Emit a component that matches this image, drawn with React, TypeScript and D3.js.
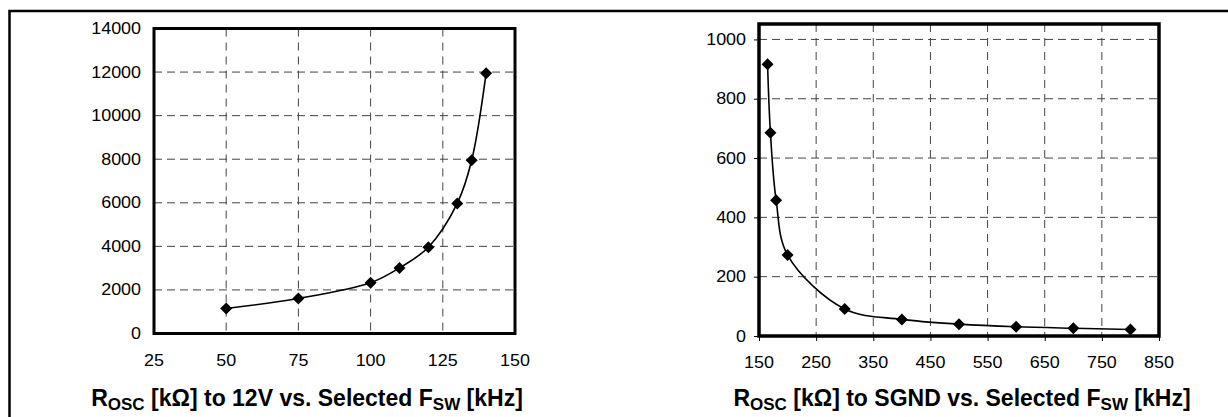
import { useEffect, useRef } from "react";
import * as d3 from "d3";

// left chart: Rosc to 12V
const fswHigh = [50, 75, 100, 110, 120, 130, 135, 140];
const roscHigh = [1150, 1610, 2330, 3010, 3960, 5970, 7950, 11950];
const highXTicks = [25, 50, 75, 100, 125, 150];
const highYTicks = [0, 2000, 4000, 6000, 8000, 10000, 12000, 14000];

// right chart: Rosc to SGND
const fswLow = [165, 170, 180, 200, 300, 400, 500, 600, 700, 800];
const roscLow = [916, 685, 458, 273, 91, 56, 40, 31, 26, 22];
const lowXTicks = [150, 250, 350, 450, 550, 650, 750, 850];
const lowYTicks = [0, 200, 400, 600, 800, 1000];

const FONT = "'Liberation Sans', Arial, sans-serif";
const STRETCH = 1.12; // tick labels in the scan are a bit wider than Arial

type ChartCfg = {
  xs: number[];
  ys: number[];
  xTicks: number[];
  yTicks: number[];
  xDomain: [number, number];
  yDomain: [number, number];
  box: { x0: number; x1: number; y0: number; y1: number };
  outerTicks: number;
  frame: number;
  title: string[];
  titleX: number;
};

const App = () => {
  const svgRef = useRef<SVGSVGElement>(null);

  useEffect(() => {
    const svg = d3.select(svgRef.current);
    svg.selectAll("*").remove();

    // outer page frame (left + top rule)
    svg.append("path")
      .attr("d", "M9.5,417V11H1228")
      .attr("fill", "none")
      .attr("stroke", "#000")
      .attr("stroke-width", 2.5);

    const draw = (c: ChartCfg) => {
      const x = d3.scaleLinear().domain(c.xDomain).range([c.box.x0, c.box.x1]);
      const y = d3.scaleLinear().domain(c.yDomain).range([c.box.y1, c.box.y0]);
      const g = svg.append("g");

      // grid
      g.append("g")
        .selectAll("line")
        .data(c.xTicks.filter((t) => t > c.xDomain[0] && t < c.xDomain[1]))
        .enter().append("line")
        .attr("x1", (d) => x(d)).attr("x2", (d) => x(d))
        .attr("y1", c.box.y0).attr("y2", c.box.y1)
        .attr("stroke", "#444").attr("stroke-width", 1)
        .attr("stroke-dasharray", "8,6");
      g.append("g")
        .selectAll("line")
        .data(c.yTicks.filter((t) => t > c.yDomain[0] && t < c.yDomain[1]))
        .enter().append("line")
        .attr("x1", c.box.x0).attr("x2", c.box.x1)
        .attr("y1", (d) => y(d)).attr("y2", (d) => y(d))
        .attr("stroke", "#444").attr("stroke-width", 1)
        .attr("stroke-dasharray", "8,5");

      // outer tick marks via d3 axes, labels drawn separately
      const xAxis = g.append("g")
        .attr("transform", `translate(0,${c.box.y1})`)
        .call(d3.axisBottom(x).tickValues(c.xTicks).tickFormat(() => "").tickSize(c.outerTicks));
      const yAxis = g.append("g")
        .attr("transform", `translate(${c.box.x0},0)`)
        .call(d3.axisLeft(y).tickValues(c.yTicks).tickFormat(() => "").tickSize(c.outerTicks));
      [xAxis, yAxis].forEach((a) => {
        a.select(".domain").remove();
        a.selectAll("text").remove();
        a.selectAll("line").attr("stroke", "#000");
      });

      const fmt = d3.format("d");
      const xLabY = c.box.y1 + (c.outerTicks ? 32 : 32);
      g.append("g")
        .selectAll("text")
        .data(c.xTicks)
        .enter().append("text")
        .attr("transform", (d) => `translate(${x(d)},${xLabY}) scale(${STRETCH},1)`)
        .attr("text-anchor", "middle")
        .style("font-family", FONT)
        .style("font-size", "16px")
        .text((d) => fmt(d));
      const yLabX = c.box.x0 - (c.outerTicks ? 13 : 13);
      g.append("g")
        .selectAll("text")
        .data(c.yTicks)
        .enter().append("text")
        .attr("transform", (d) => `translate(${yLabX},${y(d) + 5.5}) scale(${STRETCH},1)`)
        .attr("text-anchor", "end")
        .style("font-family", FONT)
        .style("font-size", "16px")
        .text((d) => fmt(d));

      // plot border
      g.append("rect")
        .attr("x", c.box.x0).attr("y", c.box.y0)
        .attr("width", c.box.x1 - c.box.x0).attr("height", c.box.y1 - c.box.y0)
        .attr("fill", "none").attr("stroke", "#000").attr("stroke-width", c.frame);

      const pts = c.xs.map((v, i) => [v, c.ys[i]] as [number, number]);
      const line = d3.line<[number, number]>()
        .x((d) => x(d[0]))
        .y((d) => y(d[1]))
        .curve(d3.curveCatmullRom.alpha(0.5));
      g.append("path")
        .datum(pts)
        .attr("fill", "none").attr("stroke", "#000").attr("stroke-width", 1.6)
        .attr("d", line);

      const marker = d3.symbol().type(d3.symbolSquare).size(72);
      g.append("g")
        .selectAll("path")
        .data(pts)
        .enter().append("path")
        .attr("d", marker)
        .attr("transform", (d) => `translate(${x(d[0])},${y(d[1])}) rotate(45)`)
        .attr("fill", "#000");

      // title with subscripts
      const t = g.append("text")
        .attr("x", c.titleX).attr("y", 406)
        .attr("text-anchor", "middle")
        .style("font-family", FONT)
        .style("font-weight", "bold")
        .style("font-size", "23px");
      c.title.forEach((part, i) => {
        const sub = i % 2 === 1;
        t.append("tspan")
          .attr("dy", sub ? 4 : i === 0 ? 0 : -4)
          .style("font-size", sub ? "17px" : "23px")
          .text(part);
      });
    };

    draw({
      xs: fswHigh, ys: roscHigh, xTicks: highXTicks, yTicks: highYTicks,
      xDomain: [25, 150], yDomain: [0, 14000],
      box: { x0: 154, x1: 515, y0: 28.5, y1: 333.5 },
      outerTicks: 0, frame: 3,
      title: ["R", "OSC", " [k\u03a9] to 12V vs. Selected F", "SW", " [kHz]"],
      titleX: 307,
    });
    draw({
      xs: fswLow, ys: roscLow, xTicks: lowXTicks, yTicks: lowYTicks,
      xDomain: [150, 850], yDomain: [0, 1052],
      box: { x0: 759, x1: 1159, y0: 24, y1: 336 },
      outerTicks: 5, frame: 3.5,
      title: ["R", "OSC", " [k\u03a9] to SGND vs. Selected F", "SW", " [kHz]"],
      titleX: 962,
    });
  }, []);

  return (
    <svg
      ref={svgRef}
      width={1228}
      height={417}
      style={{ position: "absolute", left: 0, top: 0, background: "#fff" }}
    ></svg>
  );
};

export default App;
